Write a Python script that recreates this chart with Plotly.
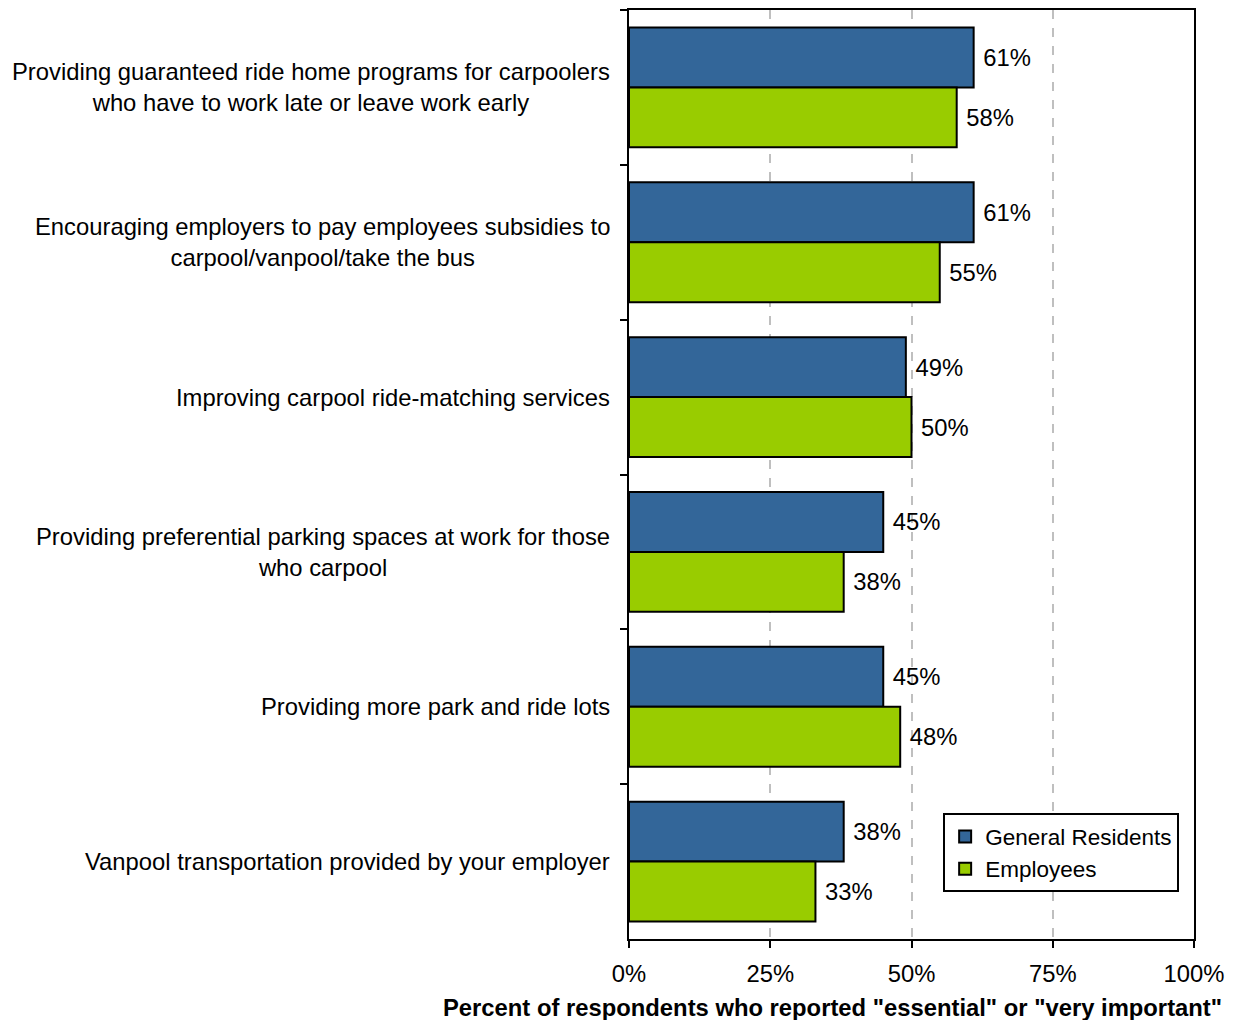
import plotly.graph_objects as go

categories = [
    "Providing guaranteed ride home programs for carpoolers<br>who have to work late or leave work early",
    "Encouraging employers to pay employees subsidies to<br>carpool/vanpool/take the bus",
    "Improving carpool ride-matching services",
    "Providing preferential parking spaces at work for those<br>who carpool",
    "Providing more park and ride lots",
    "Vanpool transportation provided by your employer",
]
general_residents = [61, 61, 49, 45, 45, 38]
employees = [58, 55, 50, 38, 48, 33]
x_tickvals = [0, 25, 50, 75, 100]
x_ticktext = ["0%", "25%", "50%", "75%", "100%"]

FONT = "Liberation Sans, Arial, sans-serif"
FS = 23.8

fig = go.Figure()
fig.add_trace(go.Bar(
    name="General Residents", y=categories, x=general_residents, orientation="h",
    marker=dict(color="#336699", line=dict(color="black", width=2)),
    text=[f"\u00a0{v}%" for v in general_residents], textposition="outside",
    textfont=dict(family=FONT, size=FS, color="black"), cliponaxis=False,
))
fig.add_trace(go.Bar(
    name="Employees", y=categories, x=employees, orientation="h",
    marker=dict(color="#99CC00", line=dict(color="black", width=2)),
    text=[f"\u00a0{v}%" for v in employees], textposition="outside",
    textfont=dict(family=FONT, size=FS, color="black"), cliponaxis=False,
))

annotations = []
for c in categories:
    annotations.append(dict(
        x=0, xref="paper", y=c, yref="y", text=c, showarrow=False,
        xanchor="right", yanchor="middle", align="center", xshift=-17,
        font=dict(family=FONT, size=FS, color="black"),
    ))
annotations.append(dict(
    x=1.053, xref="paper", y=0, yref="paper", yshift=-68, yanchor="middle",
    xanchor="right", showarrow=False,
    text='<b>Percent of respondents who reported "essential" or "very important"</b>',
    font=dict(family=FONT, size=FS, color="black"),
))

fig.update_layout(
    width=1233, height=1020,
    margin=dict(l=629, r=39, t=8, b=81),
    paper_bgcolor="white", plot_bgcolor="white",
    barmode="group", bargap=0.226, bargroupgap=0,
    font=dict(family=FONT, size=FS, color="black"),
    showlegend=True,
    legend=dict(
        x=0.556, y=0.1353, xanchor="left", yanchor="top",
        bgcolor="white", bordercolor="black", borderwidth=2,
        font=dict(family=FONT, size=22.5, color="black"),
        traceorder="normal", itemwidth=30, tracegroupgap=0,
    ),
    annotations=annotations,
)
fig.update_xaxes(
    range=[0, 100], tickvals=x_tickvals, ticktext=x_ticktext,
    showgrid=True, gridcolor="#BFBFBF", griddash="dash", gridwidth=2,
    showline=True, linecolor="black", linewidth=2, mirror=True,
    ticks="outside", ticklen=7, tickwidth=2, tickcolor="black",
    tickfont=dict(family=FONT, size=FS, color="black"),
    zeroline=False, ticklabelstandoff=5,
)
fig.update_yaxes(
    autorange="reversed", showticklabels=False, tickson="boundaries",
    ticks="outside", ticklen=7, tickwidth=2, tickcolor="black",
    showline=True, linecolor="black", linewidth=2, mirror=True,
    showgrid=False,
)

fig.write_html("out.html", config={"displayModeBar": False},
               post_script="document.body.style.margin='0px';")
